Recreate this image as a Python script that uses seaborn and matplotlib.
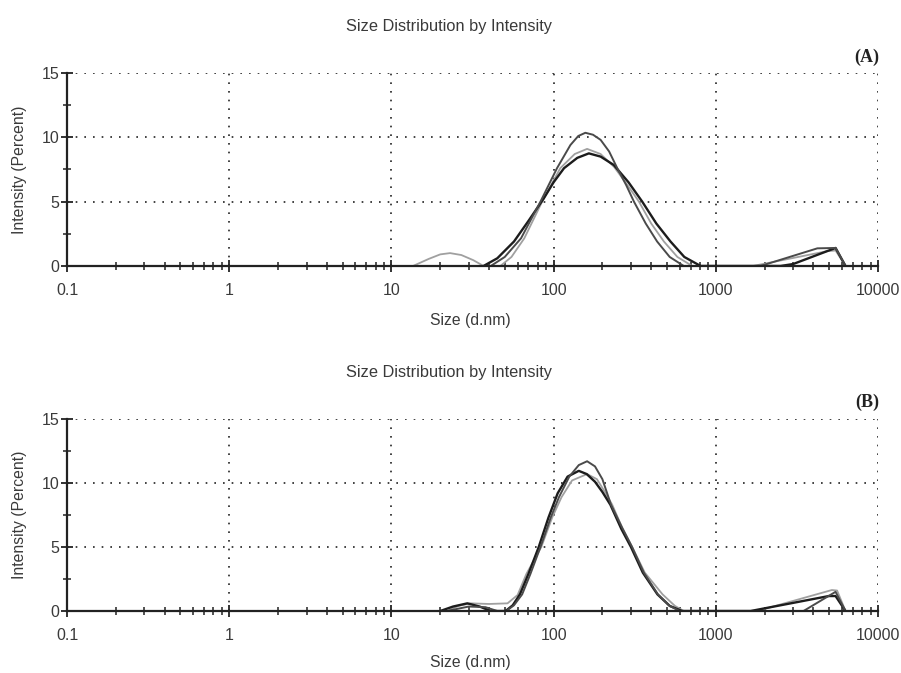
import numpy as np
import pandas as pd
import matplotlib
matplotlib.use("Agg")
import matplotlib.pyplot as plt
import matplotlib.ticker as mticker
import seaborn as sns


# Panel A - three records, size (d.nm) and intensity (%)
a_high_size = [41, 50, 63, 83, 105, 127, 142, 157, 175, 195, 220, 247, 280, 313, 370, 435, 520, 635,
               1890, 4230, 5480, 6310]
a_high_int = [0, 0.7, 2.15, 5.0, 7.6, 9.4, 10.1, 10.35, 10.2, 9.8, 8.9, 7.6, 6.3, 5.0, 3.3, 1.9, 0.7, 0,
              0, 1.37, 1.40, 0]

a_broad_size = [37, 45, 57, 70, 87, 100, 116, 140, 165, 195, 235, 290, 352, 430, 526, 640, 806,
                2510, 3000, 5480, 6310]
a_broad_int = [0, 0.6, 1.9, 3.5, 5.25, 6.5, 7.6, 8.4, 8.75, 8.5, 7.85, 6.5, 5.0, 3.3, 1.9, 0.7, 0,
               0, 0.15, 1.4, 0]

a_gray_size = [13.6, 17, 20, 23, 27, 32, 37, 47, 55, 66, 85, 110, 135, 161, 195, 236, 285, 336, 400,
               479, 580, 716, 1700, 4860, 5480, 6310]
a_gray_int = [0, 0.55, 0.9, 1.0, 0.85, 0.45, 0, 0, 0.7, 2.15, 5.0, 7.6, 8.7, 9.1, 8.7, 7.7, 6.3, 5.0, 3.3,
              1.9, 0.7, 0, 0, 1.15, 1.2, 0]

# Panel B
b_high_size = [22, 30, 38, 45, 51, 57, 64, 72, 83, 96, 108, 125, 143, 161, 180, 200, 226, 265, 305, 360,
               440, 520, 600, 3475, 5480, 6310]
b_high_int = [0, 0.35, 0.3, 0, 0, 0.45, 1.3, 2.9, 5.0, 7.3, 8.9, 10.5, 11.4, 11.7, 11.3, 10.3, 8.3, 6.5,
              5.0, 3.0, 1.3, 0.4, 0, 0, 1.5, 0]

b_black_size = [20, 24, 29.4, 35, 41, 50.6, 56, 62, 70, 81, 93, 106, 122, 143, 160, 180, 200, 224, 262,
                300, 355, 437, 520, 620, 1640, 4980, 5480, 6310]
b_black_int = [0, 0.35, 0.6, 0.35, 0, 0, 0.45, 1.3, 2.9, 5.0, 7.3, 9.2, 10.5, 10.95, 10.7, 10.1, 9.3,
               8.3, 6.4, 5.0, 3.0, 1.3, 0.4, 0, 0, 1.17, 1.17, 0]

b_gray_size = [22, 26, 30.8, 40, 52, 60, 68, 84, 98, 112, 130, 161, 185, 205, 230, 265, 305, 365, 470,
               560, 635, 1800, 5200, 5600, 6310]
b_gray_int = [0, 0.4, 0.6, 0.55, 0.6, 1.25, 2.9, 5.0, 7.3, 8.9, 10.2, 10.7, 10.3, 9.4, 8.3, 6.5, 5.0,
              3.0, 1.3, 0.4, 0, 0, 1.64, 1.6, 0]

x_ticks = [0.1, 1, 10, 100, 1000, 10000]
x_tick_labels = ["0.1", "1", "10", "100", "1000", "10000"]
y_ticks = [0, 5, 10, 15]

sns.set_style("white")
plt.rcParams['font.family'] = ['Liberation Sans', 'DejaVu Sans']

fig = plt.figure(figsize=(9.01, 6.73), dpi=100)
ax_a = fig.add_axes([0.0744, 0.6048, 0.9, 0.2868])
ax_b = fig.add_axes([0.0744, 0.0921, 0.9, 0.2853])


def style_axis(ax):
    ax.set_xscale("log")
    ax.set_xlim(0.1, 10000)
    ax.set_ylim(0, 15)
    ax.set_xticks(x_ticks)
    ax.set_xticklabels(x_tick_labels)
    ax.xaxis.set_minor_locator(mticker.LogLocator(base=10, subs=np.arange(2, 10)))
    ax.xaxis.set_minor_formatter(mticker.NullFormatter())
    ax.set_yticks(y_ticks)
    ax.yaxis.set_minor_locator(mticker.MultipleLocator(2.5))
    ax.yaxis.set_minor_formatter(mticker.NullFormatter())
    ax.tick_params(which="both", bottom=True, left=True, top=False, right=False)
    ax.tick_params(which="major", direction="inout", length=8, width=1.3, colors="#222222",
                   labelsize=11.5, labelcolor="#3a3a3a")
    ax.tick_params(axis="x", which="major", pad=8)
    ax.tick_params(axis="y", which="major", pad=1.5)
    ax.tick_params(which="minor", direction="inout", length=6, width=1.1, colors="#222222")
    ax.grid(which="major", color="#222222", linestyle=(0, (1, 4.2)), linewidth=1.2)
    ax.set_axisbelow(True)
    for side in ["top", "right"]:
        ax.spines[side].set_visible(False)
    for side in ["left", "bottom"]:
        ax.spines[side].set_color("#222222")
        ax.spines[side].set_linewidth(1.6)
    ax.set_xlabel("")
    ax.set_ylabel("")


def draw_panel(ax, curves):
    for sizes, vals, color, lw in curves:
        df = pd.DataFrame({"size": sizes, "intensity": vals})
        sns.lineplot(data=df, x="size", y="intensity", ax=ax, color=color, linewidth=lw,
                     sort=False, estimator=None)
    style_axis(ax)


draw_panel(ax_a, [
    (a_gray_size, a_gray_int, "#a0a0a0", 1.3),
    (a_broad_size, a_broad_int, "#1c1c1c", 1.7),
    (a_high_size, a_high_int, "#4a4a4a", 1.4),
])
draw_panel(ax_b, [
    (b_gray_size, b_gray_int, "#a0a0a0", 1.3),
    (b_black_size, b_black_int, "#1c1c1c", 1.7),
    (b_high_size, b_high_int, "#4a4a4a", 1.4),
])

# titles, axis labels, panel letters
for y_title, y_xlab, y_ylab, y_letter, letter in [(27, 320, 170, 57, "(A)"), (372, 663, 515, 402, "(B)")]:
    fig.text(448.5 / 901, 1 - y_title / 673, "Size Distribution by Intensity", ha="center", va="center",
             fontsize=11.8, color="#3a3a3a")
    fig.text(470 / 901, 1 - y_xlab / 673, "Size (d.nm)", ha="center", va="center", fontsize=11.3,
             color="#3a3a3a")
    fig.text(20 / 901, 1 - y_ylab / 673, "Intensity (Percent)", ha="center", va="center", rotation=90,
             fontsize=11.3, color="#3a3a3a")
    fig.text(879 / 901, 1 - y_letter / 673, letter, ha="right", va="center", fontsize=13,
             fontweight="bold", family=["Liberation Serif", "DejaVu Serif"], color="#222222")

fig.savefig("out.png", dpi=100)
